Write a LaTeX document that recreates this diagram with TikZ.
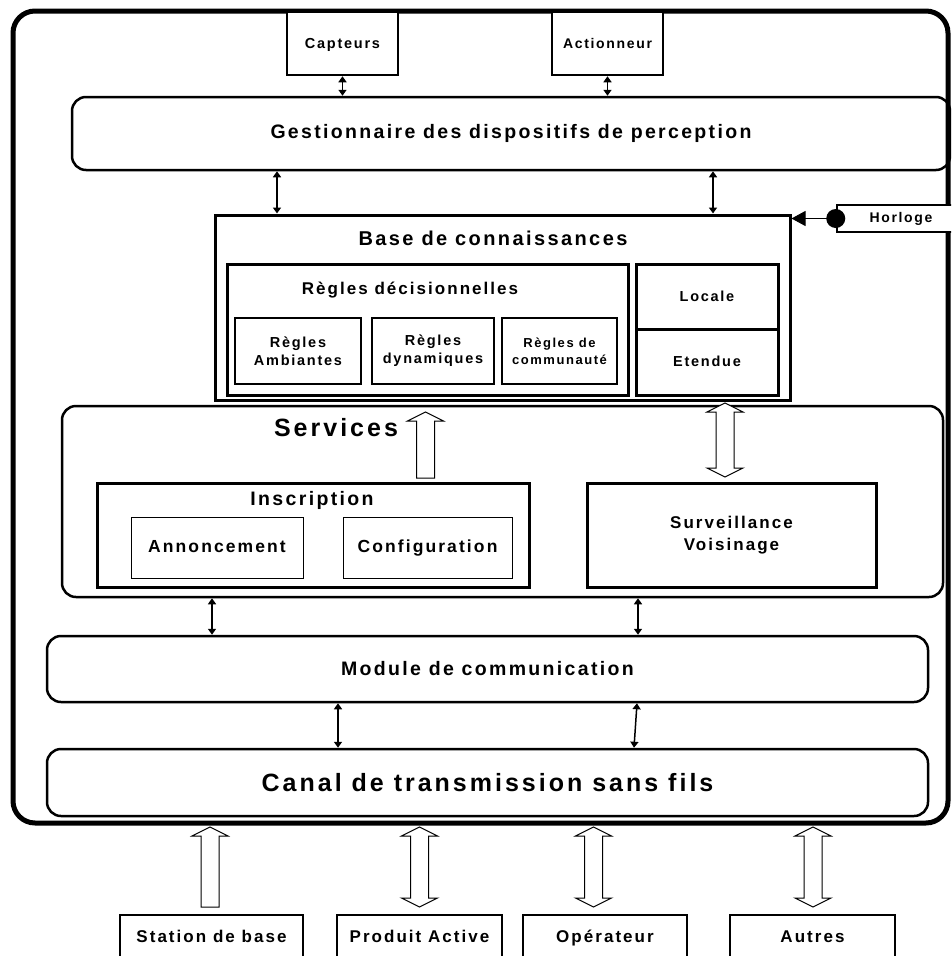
\documentclass[tikz,border=0pt]{standalone}
\usepackage{fontspec}
\setmainfont{Liberation Sans}[LetterSpace=12]
\usetikzlibrary{arrows.meta}

% block arrows: x, top, bottom
\newcommand{\dblarr}[3]{%
  \draw[blockarrow] (#1,#2) -- ({#1+18},{#2+9}) -- ({#1+9},{#2+9}) -- ({#1+9},{#3-9})
    -- ({#1+18},{#3-9}) -- (#1,#3) -- ({#1-18},{#3-9}) -- ({#1-9},{#3-9})
    -- ({#1-9},{#2+9}) -- ({#1-18},{#2+9}) -- cycle;}
\newcommand{\uparr}[3]{%
  \draw[blockarrow] (#1,#2) -- ({#1+18},{#2+9}) -- ({#1+9},{#2+9}) -- ({#1+9},#3)
    -- ({#1-9},#3) -- ({#1-9},{#2+9}) -- ({#1-18},{#2+9}) -- cycle;}

\begin{document}
\begin{tikzpicture}[x=1pt,y=-1pt,>={Triangle[length=6pt,width=8pt]},
  frame/.style={draw,line width=2.5pt,inner sep=0pt,fill=white},
  rframe/.style={draw,line width=2.5pt,rounded corners=14pt,inner sep=0pt},
  thin/.style={draw,line width=1pt,inner sep=0pt},
  fs/.style 2 args={font=\bfseries\fontsize{#1}{#2}\selectfont},
  evenline/.style={text height=12.5pt,text depth=3.5pt},
  dbl/.style={<->,line width=1.5pt},
  blockarrow/.style={draw,fill=white,line width=1pt}]
  \useasboundingbox (0,0) rectangle (951,956);
  \clip (0,0) rectangle (951,956);

  % outer frame
  \draw[line width=5pt,rounded corners=22pt] (13,11) rectangle (948,823);

  % perception
  \node[frame,fs={14.5}{17},evenline,minimum width=111,minimum height=63] (cap) at (342.5,43.5) {Capteurs};
  \node[frame,fs={14}{17},evenline,minimum width=111,minimum height=63] (act) at (607.5,43.5) {Actionneur};
  \node[rframe,fs={19.5}{22},minimum width=878,minimum height=73] (gest) at (511,133.5) {Gestionnaire des dispositifs de perception};

  % base de connaissances
  \node[frame,line width=3pt,minimum width=575,minimum height=185] (base) at (502.5,307.5) {};
  \node[fs={20}{22}] (basetitle) at (493,238) {Base de connaissances};
  \node[frame,line width=3pt,minimum width=401,minimum height=131] (regles) at (427.5,329.5) {};
  \node[fs={17}{20}] (reglestitle) at (410,290) {Règles décisionnelles};
  \node[frame,fs={14.5}{18},align=center,minimum width=126,minimum height=66] (amb) at (298,351) {Règles\\Ambiantes};
  \node[frame,fs={14.5}{18},align=center,minimum width=122,minimum height=66] (dyn) at (433,351) {Règles\\dynamiques};
  \node[frame,fs={13}{17},align=center,minimum width=115,minimum height=66] (comm) at (559.5,351) {Règles de\\communauté};
  \node[frame,line width=3pt,fs={14.5}{17},evenline,minimum width=142,minimum height=65] (loc) at (707,296.5) {Locale};
  \node[frame,line width=3pt,fs={14.5}{17},evenline,minimum width=142,minimum height=66] (eten) at (707,362) {Etendue};

  % horloge
  \node[frame,line width=2.5pt,fs={14}{17},minimum width=128,minimum height=27] (horl) at (901,218.5) {Horloge};
  \draw[line width=1pt,-{Triangle[length=14pt,width=15pt]}] (horl.west) -- (base.east |- horl.west);
  \fill (horl.west) circle (9.5pt);

  % services
  \node[rframe,minimum width=881,minimum height=191] (serv) at (502.5,501.5) {};
  \node[fs={25}{28}] (servtitle) at (336,428) {Services};
  \node[frame,line width=3pt,minimum width=432,minimum height=104] (insc) at (313,535) {};
  \node[fs={19.5}{22}] (insctitle) at (312,500) {Inscription};
  \node[thin,fs={17.5}{20},evenline,minimum width=172,minimum height=61] (ann) at (217,547.5) {Annoncement};
  \node[thin,fs={17.5}{20},evenline,minimum width=169,minimum height=61] (conf) at (427.5,547.5) {Configuration};
  \node[frame,line width=3pt,fs={17}{22},align=center,minimum width=289,minimum height=104] (surv) at (731.5,535) {Surveillance\\Voisinage};
  \uparr{425.5}{412}{478}
  \dblarr{725}{403}{477}

  % communication
  \node[rframe,fs={19.5}{22},minimum width=881,minimum height=66] (module) at (487.5,669) {Module de communication};
  \node[rframe,fs={25}{28},minimum width=881,minimum height=67] (canal) at (487.5,782.5) {Canal de transmission sans fils};

  % liaisons
  \draw[dbl] (cap.south) -- (cap.south |- gest.north);
  \draw[dbl] (act.south) -- (act.south |- gest.north);
  \draw[dbl] (gest.south -| 277,0) -- (base.north -| 277,0);
  \draw[dbl] (gest.south -| 713,0) -- (base.north -| 713,0);
  \draw[dbl] (serv.south -| 212,0) -- (module.north -| 212,0);
  \draw[dbl] (serv.south -| 638,0) -- (module.north -| 638,0);
  \draw[dbl] (module.south -| 338,0) -- (canal.north -| 338,0);
  \draw[dbl] (module.south -| 637,0) -- (canal.north -| 634,0);

  % acteurs externes
  \node[thin,line width=1.5pt,fs={17}{20},evenline,minimum width=183,minimum height=46] (stat) at (211.5,938) {Station de base};
  \node[thin,line width=1.5pt,fs={17}{20},evenline,minimum width=165,minimum height=46] (prod) at (419.5,938) {Produit Active};
  \node[thin,line width=1.5pt,fs={17}{20},evenline,minimum width=164,minimum height=46] (oper) at (605,938) {Opérateur};
  \node[thin,line width=1.5pt,fs={17}{20},evenline,minimum width=165,minimum height=46] (autr) at (812.5,938) {Autres};
  \uparr{210}{827}{907}
  \dblarr{419.5}{827}{907}
  \dblarr{593.5}{827}{907}
  \dblarr{813}{827}{907}
\end{tikzpicture}
\end{document}
